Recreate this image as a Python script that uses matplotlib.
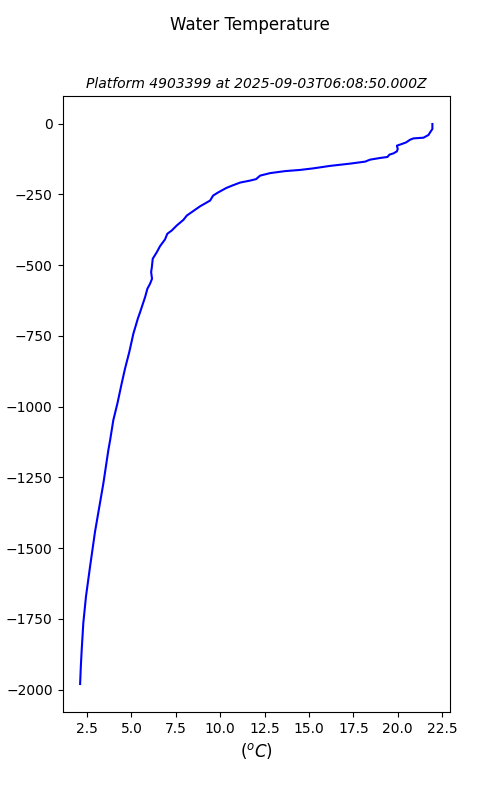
import matplotlib
matplotlib.use("Agg")
import matplotlib.pyplot as plt

temperature = [21.95, 21.95, 21.82, 21.73, 21.45, 20.88, 20.70, 20.47, 20.23, 19.95,
               20.00, 19.95, 19.76, 19.53, 19.42, 19.01, 18.44, 18.16, 17.32, 16.19,
               15.25, 14.50, 13.65, 12.81, 12.25, 12.02, 11.68, 11.12, 10.67, 10.33,
               9.88, 9.60, 9.43, 8.87, 8.12, 7.93, 7.55, 7.27, 7.02, 6.89,
               6.61, 6.43, 6.20, 6.15, 6.11, 6.16, 6.05, 5.90, 5.77, 5.49,
               5.36, 5.11, 4.88, 4.64, 4.45, 4.21, 3.98, 3.80, 3.70, 3.42,
               2.95, 2.67, 2.44, 2.29, 2.20, 2.15, 2.11]
depth = [-1, -18.7, -30.7, -39.9, -49.4, -51.9, -56.4, -66, -71.6, -77.6,
         -89.2, -97.7, -104.8, -109.3, -117.5, -121, -127, -134, -141, -149,
         -157.7, -163.3, -167.5, -174.6, -183.4, -195.8, -201, -208, -218.7, -227.5,
         -243, -254, -271.6, -291.7, -324.5, -339.7, -359.8, -377.4, -389, -409,
         -432.8, -453.9, -477.2, -506.9, -524.5, -547.8, -565.4, -583, -612.7, -665.6,
         -688.9, -741.8, -806.7, -865.3, -918.2, -988.7, -1047.6, -1118.2, -1153.4, -1270.9,
         -1441.6, -1565, -1670.9, -1764.7, -1858.9, -1917.8, -1980]

fig, ax = plt.subplots(figsize=(5, 8), dpi=100)
ax.plot(temperature, depth, color="blue", linewidth=1.5)
fig.suptitle("Water Temperature")
ax.set_title("Platform 4903399 at 2025-09-03T06:08:50.000Z", fontsize=10, style="italic")
ax.set_xlabel("($^o C$)", fontsize=12)
ax.set_ylabel("depth (m)")
fig.savefig("out.png")
